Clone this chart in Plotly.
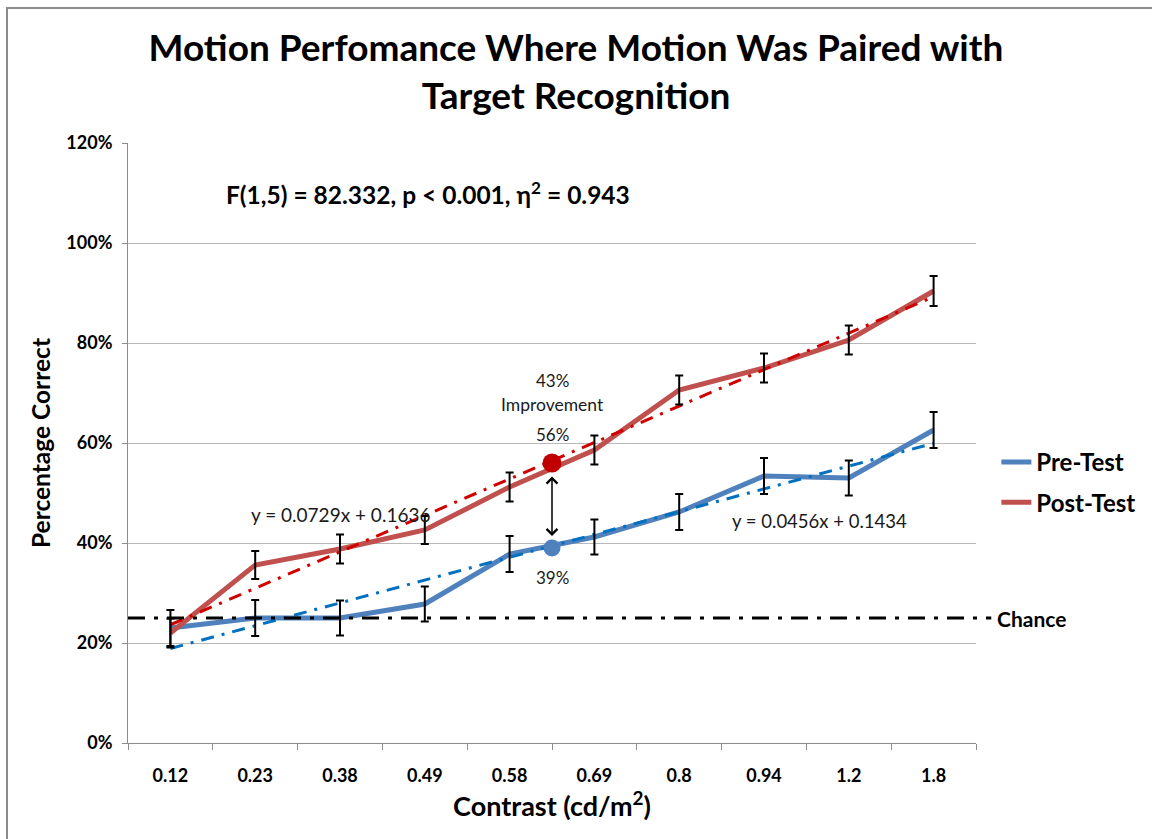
import plotly.graph_objects as go

# Contrast levels (cd/m^2) shown as evenly spaced categories
contrast = ["0.12", "0.23", "0.38", "0.49", "0.58", "0.69", "0.8", "0.94", "1.2", "1.8"]

# Mean proportion correct per contrast level
pre_test = [0.230, 0.250, 0.250, 0.278, 0.378, 0.412, 0.462, 0.534, 0.530, 0.626]
post_test = [0.220, 0.356, 0.388, 0.426, 0.512, 0.586, 0.706, 0.750, 0.806, 0.904]

# Error bar half-widths
pre_err = [0.036, 0.036, 0.035, 0.035, 0.036, 0.035, 0.036, 0.036, 0.035, 0.036]
post_err = [0.029, 0.028, 0.029, 0.028, 0.029, 0.029, 0.029, 0.029, 0.029, 0.030]

# Linear trend coefficients (x = category index 1..10)
post_slope, post_icpt = 0.0729, 0.1636
pre_slope, pre_icpt = 0.0456, 0.1434

# Highlighted comparison point between 0.58 and 0.69
highlight_x = 5.5
highlight_pre = 0.39
highlight_post = 0.56
improvement = "43%"

chance = 0.25

y_ticks = [0, 0.2, 0.4, 0.6, 0.8, 1.0, 1.2]
y_ticktext = ["0%", "20%", "40%", "60%", "80%", "100%", "120%"]

FONT = "Lato, Calibri, sans-serif"
BLUE = "#4F81BD"
RED = "#C0504D"
BLUE_TREND = "#0070C0"
RED_TREND = "#D00000"
TEXT = "#1a1a1a"

idx = list(range(1, len(contrast) + 1))

fig = go.Figure()

fig.add_trace(go.Scatter(
    x=idx, y=pre_test, mode="lines", name="Pre-Test",
    line=dict(color=BLUE, width=5), legendgroup="pre",
))
fig.add_trace(go.Scatter(
    x=idx, y=post_test, mode="lines", name="Post-Test",
    line=dict(color=RED, width=5), legendgroup="post",
))

# Linear trend lines
post_fit = [post_slope * i + post_icpt for i in idx]
pre_fit = [pre_slope * i + pre_icpt for i in idx]
fig.add_trace(go.Scatter(
    x=idx, y=post_fit, mode="lines", showlegend=False, hoverinfo="skip",
    line=dict(color=RED_TREND, width=3, dash="13px,8px,3px,8px"),
))
fig.add_trace(go.Scatter(
    x=idx, y=pre_fit, mode="lines", showlegend=False, hoverinfo="skip",
    line=dict(color=BLUE_TREND, width=3, dash="13px,8px,3px,8px"),
))

# Error bars
fig.add_trace(go.Scatter(
    x=idx, y=pre_test, mode="markers", showlegend=False, hoverinfo="skip",
    marker=dict(size=1, color="rgba(0,0,0,0)"),
    error_y=dict(type="data", array=pre_err, color="black", thickness=2, width=4),
))
fig.add_trace(go.Scatter(
    x=idx, y=post_test, mode="markers", showlegend=False, hoverinfo="skip",
    marker=dict(size=1, color="rgba(0,0,0,0)"),
    error_y=dict(type="data", array=post_err, color="black", thickness=2, width=4),
))

# Highlighted points
fig.add_trace(go.Scatter(
    x=[highlight_x], y=[highlight_post], mode="markers", showlegend=False,
    marker=dict(size=19, color="#C00000"),
))
fig.add_trace(go.Scatter(
    x=[highlight_x], y=[highlight_pre], mode="markers", showlegend=False,
    marker=dict(size=17, color=BLUE),
))

annotations = [
    # Double-headed arrow between the highlighted points
    dict(x=highlight_x, y=highlight_pre, ax=highlight_x, ay=highlight_post,
         xref="x", yref="y", axref="x", ayref="y", text="", showarrow=True,
         arrowhead=4, startarrowhead=4, arrowside="end+start",
         arrowsize=1.4, startarrowsize=1.4, arrowwidth=1.5, arrowcolor="black",
         standoff=12, startstandoff=12),
    dict(x=highlight_x, y=highlight_post, xref="x", yref="y", text=f"{highlight_post:.0%}",
         showarrow=False, yshift=29, font=dict(family=FONT, size=17, color=TEXT)),
    dict(x=highlight_x, y=highlight_pre, xref="x", yref="y", text=f"{highlight_pre:.0%}",
         showarrow=False, yshift=-29, font=dict(family=FONT, size=17, color=TEXT)),
    dict(x=highlight_x, y=highlight_post, xref="x", yref="y", text=improvement,
         showarrow=False, yshift=83, font=dict(family=FONT, size=17, color=TEXT)),
    dict(x=highlight_x, y=highlight_post, xref="x", yref="y", text="Improvement",
         showarrow=False, yshift=59, font=dict(family=FONT, size=17.5, color=TEXT)),
    # Trend equations
    dict(x=3.0, y=0.458, xref="x", yref="y", showarrow=False,
         text=f"y = {post_slope}x + {post_icpt}",
         font=dict(family=FONT, size=19, color=TEXT)),
    dict(x=8.66, y=0.444, xref="x", yref="y", showarrow=False,
         text=f"y = {pre_slope}x + {pre_icpt}",
         font=dict(family=FONT, size=18.5, color=TEXT)),
    # ANOVA summary
    dict(x=0.354, y=0.947, xref="paper", yref="paper", showarrow=False,
         text="F(1,5) = 82.332, p &lt; 0.001, η<sup>2</sup> = 0.943",
         font=dict(family=FONT, size=24.5, color="black", weight="bold")),
    # Chance label
    dict(x=1.022, y=chance, xref="paper", yref="y", showarrow=False,
         xanchor="left", text="Chance",
         font=dict(family=FONT, size=21, color="black", weight="bold")),
]

shapes = [
    # Chance level
    dict(type="line", xref="paper", yref="y", x0=0, x1=1.018, y0=chance, y1=chance,
         line=dict(color="black", width=3, dash="17px,9px,4px,9px"), layer="above"),
    # Chart area border
    dict(type="rect", xref="paper", yref="paper",
         x0=(7 - 128) / 848, x1=(1170 - 128) / 848,
         y0=(743 - 860) / 600, y1=(743 - 8) / 600,
         line=dict(color="#8c8c8c", width=2), fillcolor="rgba(0,0,0,0)", layer="below"),
]

fig.update_layout(
    width=1152, height=839,
    margin=dict(l=128, r=176, t=143, b=96),
    paper_bgcolor="white", plot_bgcolor="white",
    font=dict(family=FONT, color="black"),
    title=dict(
        text="Motion Perfomance Where Motion Was Paired with<br>Target Recognition",
        x=0.5, xanchor="center", y=0.927, yanchor="middle",
        font=dict(family=FONT, size=37, color="black", weight="bold"),
    ),
    showlegend=True,
    legend=dict(
        x=1.024, y=0.505, xanchor="left", yanchor="top",
        font=dict(family=FONT, size=24, color="black", weight="bold"),
        tracegroupgap=6, traceorder="grouped", bgcolor="rgba(0,0,0,0)",
    ),
    annotations=annotations,
    shapes=shapes,
)

fig.update_xaxes(
    range=[0.5, len(contrast) + 0.5],
    tickmode="array", tickvals=idx, ticktext=contrast,
    ticks="", ticklabelstandoff=16,
    tickfont=dict(family=FONT, size=18, color="black", weight="bold"),
    showgrid=False, zeroline=False,
    showline=True, linecolor="#8c8c8c", linewidth=1,
    minor=dict(tickmode="array", tickvals=[i + 0.5 for i in range(0, len(contrast) + 1)],
               ticks="outside", ticklen=6, tickcolor="#8c8c8c", showgrid=False),
    title=dict(text="Contrast (cd/m<sup>2</sup>)", standoff=8,
               font=dict(family=FONT, size=27, color="black", weight="bold")),
)

fig.update_yaxes(
    range=[0, 1.2], tickmode="array", tickvals=y_ticks, ticktext=y_ticktext,
    ticks="outside", ticklen=5, tickcolor="#8c8c8c", ticklabelstandoff=6,
    tickfont=dict(family=FONT, size=18, color="black", weight="bold"),
    showgrid=True, gridcolor="#b8b8b8", gridwidth=1, zeroline=False,
    showline=True, linecolor="#8c8c8c", linewidth=1,
    title=dict(text="Percentage Correct", standoff=8,
               font=dict(family=FONT, size=24.5, color="black", weight="bold")),
)

fig.write_html("out.html")
